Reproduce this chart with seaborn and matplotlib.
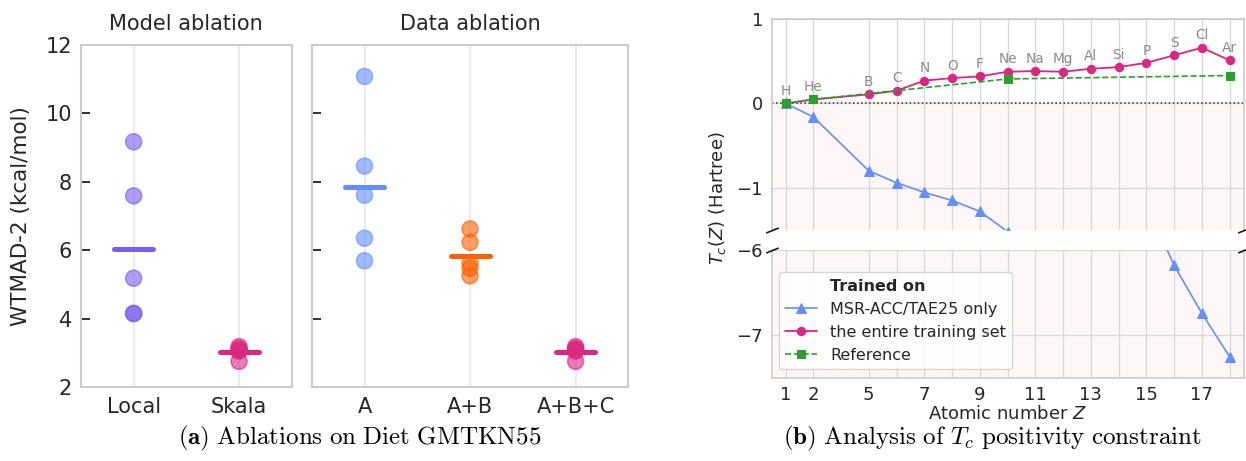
import numpy as np
import pandas as pd
import matplotlib
matplotlib.use("Agg")
import matplotlib.pyplot as plt
from matplotlib.lines import Line2D
import seaborn as sns

# ---------------- (a) ablations on Diet GMTKN55 ----------------
model_cats = ["Local", "Skala"]
local_vals = [9.17, 7.59, 5.18, 4.15, 4.15]
skala_vals = [3.18, 3.12, 3.08, 3.05, 2.75]

data_cats = ["A", "A+B", "A+B+C"]
a_vals = [11.08, 8.46, 7.61, 6.35, 5.69]
ab_vals = [6.62, 6.23, 5.62, 5.47, 5.25]
abc_vals = [3.18, 3.12, 3.08, 3.05, 2.75]

# ---------------- (b) T_c(Z) per element ----------------
elements = ["H", "He", "B", "C", "N", "O", "F", "Ne", "Na", "Mg", "Al", "Si",
            "P", "S", "Cl", "Ar"]
atomic_z = [1, 2, 5, 6, 7, 8, 9, 10, 11, 12, 13, 14, 15, 16, 17, 18]
tc_tae_only = [0.0, -0.16, -0.80, -0.94, -1.055, -1.15, -1.28, -1.52, -2.1,
               -2.8, -3.6, -4.5, -5.46, -6.18, -6.745, -7.255]
tc_full = [0.0, 0.047, 0.107, 0.15, 0.27, 0.30, 0.32, 0.375, 0.383, 0.375,
           0.41, 0.43, 0.48, 0.57, 0.66, 0.51]
ref_z = [1, 2, 10, 18]
tc_reference = [0.0, 0.047, 0.29, 0.33]
z_tick_labels = [1, 2, 5, 7, 9, 11, 13, 15, 17]

PURPLE, BLUE, ORANGE, MAGENTA, GREEN = "#785EF0", "#648FFF", "#FE6100", "#DC267F", "#2CA02C"
TEXT = "#262626"

sns.set_theme(style="whitegrid")
plt.rcParams["font.family"] = ["DejaVu Sans"]

fig = plt.figure(figsize=(12.46, 4.61), dpi=100)
ax1 = fig.add_axes([0.0650, 0.1605, 0.1691, 0.7419])
ax2 = fig.add_axes([0.2502, 0.1605, 0.2541, 0.7419], sharey=ax1)
axt = fig.add_axes([0.6193, 0.5011, 0.3787, 0.4577])
axb = fig.add_axes([0.6193, 0.1807, 0.3787, 0.2770], sharex=axt)


def strip_panel(ax, cats, groups, colors, title):
    df = pd.DataFrame({
        "run": np.repeat(cats, [len(g) for g in groups]),
        "wtmad": np.concatenate(groups),
    })
    sns.stripplot(data=df, x="run", y="wtmad", hue="run", order=cats,
                  hue_order=cats, palette=colors, jitter=False, size=11.5,
                  alpha=0.6, linewidth=1.2, legend=False, ax=ax, zorder=3)
    for coll in ax.collections:
        coll.set_edgecolor(coll.get_facecolor())
    for i, g in enumerate(groups):
        m = float(np.mean(g))
        ax.plot([i - 0.185, i + 0.185], [m, m], color=colors[i], lw=3.6,
                solid_capstyle="round", zorder=4)
    ax.set_xlim(-0.5, len(cats) - 0.5)
    ax.set_title(title, fontsize=15, pad=11, color=TEXT)
    ax.set_xlabel("")
    ax.grid(axis="y", visible=False)
    ax.grid(axis="x", color="#ebebeb", lw=1.5)
    for s in ax.spines.values():
        s.set_color("#cccccc")
        s.set_linewidth(1.5)
    ax.tick_params(axis="y", direction="in", length=6.5, width=1.3,
                   color="#222222", left=True, labelsize=15, pad=6.5,
                   labelcolor=TEXT)
    ax.tick_params(axis="x", length=0, labelsize=15, pad=7, labelcolor=TEXT)


strip_panel(ax1, model_cats, [local_vals, skala_vals], [PURPLE, MAGENTA],
            "Model ablation")
strip_panel(ax2, data_cats, [a_vals, ab_vals, abc_vals],
            [BLUE, ORANGE, MAGENTA], "Data ablation")
ax1.set_ylim(2, 12)
ax1.set_yticks([2, 4, 6, 8, 10, 12])
ax1.set_ylabel("WTMAD-2 (kcal/mol)", fontsize=15.5, color=TEXT)
ax1.yaxis.set_label_coords(-0.235, 0.5)
ax2.set_ylabel("")
ax2.tick_params(axis="y", labelleft=False)

# ---------------- broken-axis T_c panel ----------------
xpos = np.array([i if z <= 2 else i + 1 for i, z in enumerate(atomic_z)])
ref_pos = xpos[[atomic_z.index(z) for z in ref_z]]

for ax in (axt, axb):
    ax.axhspan(-20, 0, color="red", alpha=0.03, lw=0, zorder=0)
    ax.axhline(0, color="#333333", ls=":", lw=1.1, zorder=1.5)
    sns.lineplot(x=xpos, y=tc_tae_only, ax=ax, color=BLUE, marker="^",
                 markersize=7, lw=1.2, mec=BLUE, sort=False, errorbar=None,
                 label="MSR-ACC/TAE25 only", zorder=3)
    sns.lineplot(x=xpos, y=tc_full, ax=ax, color=MAGENTA, marker="o",
                 markersize=6, lw=1.3, mec=MAGENTA, sort=False, errorbar=None,
                 label="the entire training set", zorder=4)
    sns.lineplot(x=ref_pos, y=tc_reference, ax=ax, color=GREEN, marker="s",
                 markersize=6, lw=1.2, ls="--", mec=GREEN, sort=False,
                 errorbar=None, label="Reference", zorder=5)
    if ax.get_legend() is not None:
        ax.get_legend().remove()
    ax.grid(True, color="#d9d9d9", lw=1)
    for s in ax.spines.values():
        s.set_color("#cccccc")
        s.set_linewidth(1.2)
    ax.tick_params(labelsize=13, labelcolor=TEXT, length=0)
    ax.tick_params(axis="y", pad=6.3)
    ax.tick_params(axis="x", pad=6)
    ax.set_ylabel("")

for x, y, el in zip(xpos, tc_full, elements):
    axt.annotate(el, (x, y), xytext=(0, 6), textcoords="offset points",
                 ha="center", va="baseline", fontsize=9.8, color="#8a8a8a")

axt.set_xlim(-0.5, 16.5)
axt.set_xticks(xpos)
axt.set_xticklabels([str(z) if z in z_tick_labels else "" for z in atomic_z])
axt.set_ylim(-1.5, 1)
axt.set_yticks([-1, 0, 1])
axb.set_ylim(-7.5, -6)
axb.set_yticks([-7, -6])
axt.tick_params(axis="x", labelbottom=False)
axt.spines["bottom"].set_visible(False)
axb.spines["top"].set_visible(False)
axb.set_xlabel(r"Atomic number $Z$", fontsize=13, labelpad=1, color=TEXT)

d = 0.4
brk = dict(marker=[(-1, -d), (1, d)], markersize=9, linestyle="none",
           color="k", mec="k", mew=1.2, clip_on=False, zorder=10)
axt.plot([0, 1], [0, 0], transform=axt.transAxes, **brk)
axb.plot([0, 1], [1, 1], transform=axb.transAxes, **brk)

handles = [Line2D([], [], lw=0, marker=None)] + axt.get_lines()[1:4]
labels = ["Trained on", "MSR-ACC/TAE25 only", "the entire training set", "Reference"]
leg = axb.legend(handles, labels, loc="lower left", bbox_to_anchor=(0.0155, 0.068),
                 borderaxespad=0, fontsize=11.5, labelspacing=0.5,
                 handlelength=2.0, frameon=True, framealpha=0.8,
                 edgecolor="#cccccc", fancybox=True)
leg.get_texts()[0].set_fontweight("bold")
for t in leg.get_texts():
    t.set_color(TEXT)

fig.text(717 / 1246, 1 - 198 / 461, r"$T_c(Z)$ (Hartree)", rotation=90,
         ha="center", va="center", fontsize=13, color=TEXT)

fig.text(360 / 1246, 1 - 438 / 461,
         r"$\mathbf{(a)}\ \mathrm{Ablations\ on\ Diet\ GMTKN55}$",
         ha="center", va="center", fontsize=18, math_fontfamily="cm",
         color="black")
fig.text(992 / 1246, 1 - 438 / 461,
         r"$\mathbf{(b)}\ \mathrm{Analysis\ of}\ T_c\ \mathrm{positivity\ constraint}$",
         ha="center", va="center", fontsize=18, math_fontfamily="cm",
         color="black")

fig.savefig("out.png", dpi=100)
